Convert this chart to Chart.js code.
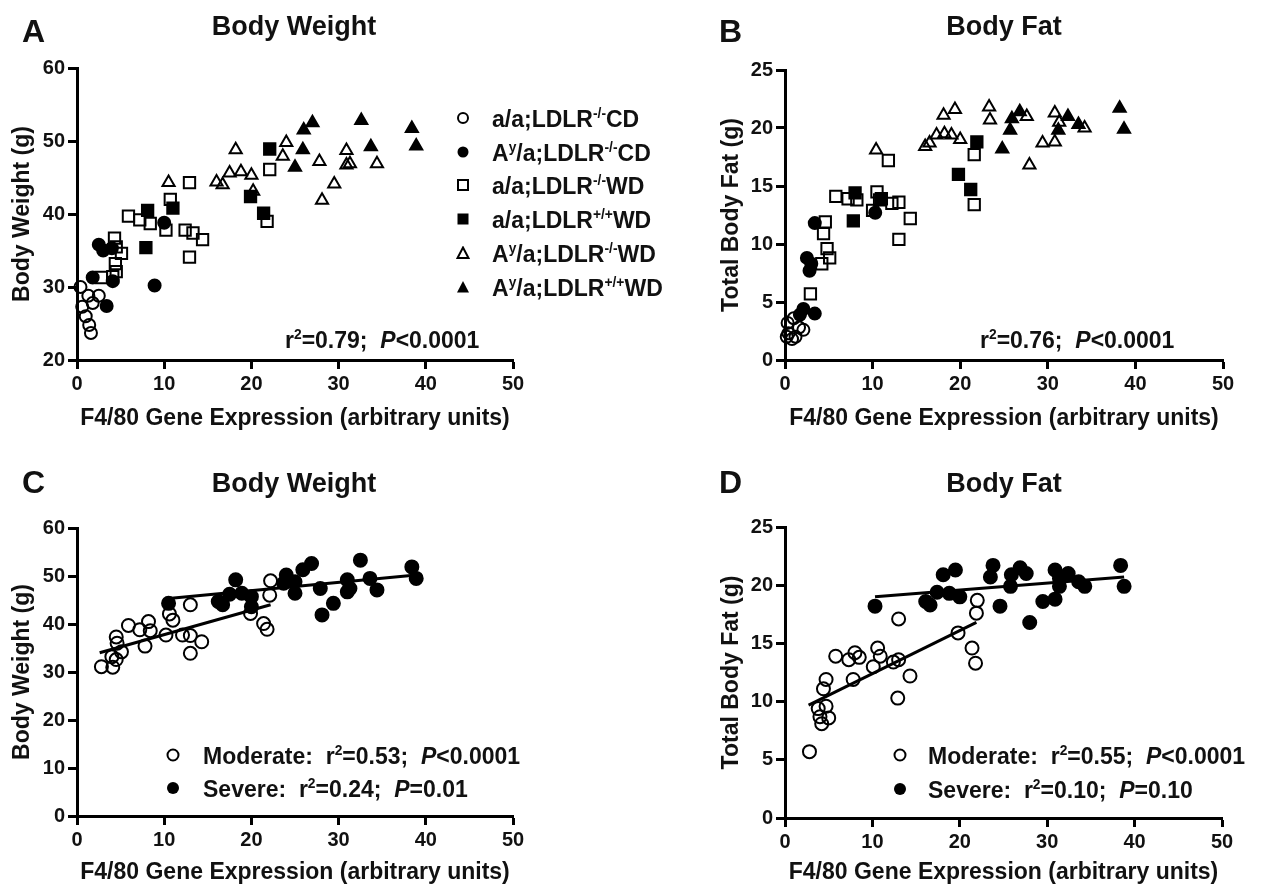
<!DOCTYPE html>
<html>
<head>
<meta charset="utf-8">
<title>F4/80 expression vs body weight and body fat</title>
<script src="https://cdn.jsdelivr.net/npm/chart.js@4.4.1/dist/chart.umd.min.js"></script>
<style>
  html, body { margin: 0; background: #fff; }
  #fig { position: relative; width: 1263px; height: 889px; overflow: hidden;
         font-family: 'Liberation Sans', Arial, Helvetica, sans-serif; font-weight: bold; color: #111; }
  #fig canvas { position: absolute; }
  .t { position: absolute; line-height: 1; white-space: nowrap; transform: translateY(-50%); }
  .mid { transform: translate(-50%, -50%); }
  .big { font-size: 32px; }
  .head { font-size: 27px; }
  .txt { font-size: 23px; }
  sup { font-size: 0.6em; line-height: 0; vertical-align: 0.65em; }
  .mk { position: absolute; transform: translate(-50%, -50%); }
</style>
</head>
<body>
<div id="fig">
  <canvas id="chartA"></canvas>
  <canvas id="chartB"></canvas>
  <canvas id="chartC"></canvas>
  <canvas id="chartD"></canvas>

  <div class="t big" style="left:22px;top:31px">A</div>
  <div class="t head mid" style="left:294px;top:26px">Body Weight</div>
  <div class="t big" style="left:719px;top:31px">B</div>
  <div class="t head mid" style="left:1004px;top:26px">Body Fat</div>
  <div class="t big" style="left:22px;top:482px">C</div>
  <div class="t head mid" style="left:294px;top:483px">Body Weight</div>
  <div class="t big" style="left:719px;top:482px">D</div>
  <div class="t head mid" style="left:1004px;top:483px">Body Fat</div>

  <!-- panel A key -->
  <svg class="mk" style="left:463px;top:118px" width="14" height="14"><circle cx="7" cy="7" r="5" fill="none" stroke="#000" stroke-width="2"/></svg>
  <div class="t txt" style="left:492px;top:119px">a/a;LDLR<sup>-/-</sup>CD</div>
  <svg class="mk" style="left:463px;top:152px" width="14" height="14"><circle cx="7" cy="7" r="5.5" fill="#000"/></svg>
  <div class="t txt" style="left:492px;top:153px">A<sup>y</sup>/a;LDLR<sup>-/-</sup>CD</div>
  <svg class="mk" style="left:463px;top:185px" width="14" height="14"><rect x="2" y="2" width="10" height="10" fill="none" stroke="#000" stroke-width="2"/></svg>
  <div class="t txt" style="left:492px;top:186px">a/a;LDLR<sup>-/-</sup>WD</div>
  <svg class="mk" style="left:463px;top:219px" width="14" height="14"><rect x="1.5" y="1.5" width="11" height="11" fill="#000"/></svg>
  <div class="t txt" style="left:492px;top:220px">a/a;LDLR<sup>+/+</sup>WD</div>
  <svg class="mk" style="left:463px;top:253px" width="14" height="14"><polygon points="7,1.5 12.5,12 1.5,12" fill="none" stroke="#000" stroke-width="2"/></svg>
  <div class="t txt" style="left:492px;top:254px">A<sup>y</sup>/a;LDLR<sup>-/-</sup>WD</div>
  <svg class="mk" style="left:463px;top:287px" width="14" height="14"><polygon points="7,1 13,12.5 1,12.5" fill="#000"/></svg>
  <div class="t txt" style="left:492px;top:288px">A<sup>y</sup>/a;LDLR<sup>+/+</sup>WD</div>

  <div class="t txt" style="left:285px;top:340px">r<sup>2</sup>=0.79;&nbsp; <i>P</i>&lt;0.0001</div>
  <div class="t txt" style="left:980px;top:340px">r<sup>2</sup>=0.76;&nbsp; <i>P</i>&lt;0.0001</div>

  <!-- panel C key -->
  <svg class="mk" style="left:173px;top:755px" width="16" height="16"><circle cx="8" cy="8" r="5.5" fill="none" stroke="#000" stroke-width="2"/></svg>
  <div class="t txt" style="left:203px;top:756px">Moderate:&nbsp; r<sup>2</sup>=0.53;&nbsp; <i>P</i>&lt;0.0001</div>
  <svg class="mk" style="left:173px;top:788px" width="16" height="16"><circle cx="8" cy="8" r="6" fill="#000"/></svg>
  <div class="t txt" style="left:203px;top:789px">Severe:&nbsp; r<sup>2</sup>=0.24;&nbsp; <i>P</i>=0.01</div>

  <!-- panel D key -->
  <svg class="mk" style="left:900px;top:755px" width="16" height="16"><circle cx="8" cy="8" r="5.5" fill="none" stroke="#000" stroke-width="2"/></svg>
  <div class="t txt" style="left:928px;top:756px">Moderate:&nbsp; r<sup>2</sup>=0.55;&nbsp; <i>P</i>&lt;0.0001</div>
  <svg class="mk" style="left:900px;top:789px" width="16" height="16"><circle cx="8" cy="8" r="6" fill="#000"/></svg>
  <div class="t txt" style="left:928px;top:790px">Severe:&nbsp; r<sup>2</sup>=0.10;&nbsp; <i>P</i>=0.10</div>
</div>

<script>
// axis ticks
const xTicks = [0, 10, 20, 30, 40, 50];
const weightTicksA = [20, 30, 40, 50, 60];
const weightTicksC = [0, 10, 20, 30, 40, 50, 60];
const fatTicks = [0, 5, 10, 15, 20, 25];

// panel A: body weight (g) by genotype / diet
const f480A_aaCD = [0.4, 1.3, 2.5, 0.6, 1.8, 1.0, 1.4, 1.6];
const bw_aaCD = [30.0, 28.8, 28.8, 27.3, 27.8, 26.0, 24.8, 23.7];
const f480A_AyCD = [2.5, 3.0, 4.0, 1.8, 3.4, 8.9, 10.0, 4.1];
const bw_AyCD = [35.8, 35.0, 35.3, 31.3, 27.4, 30.2, 38.8, 30.8];
const f480A_aaWD = [2.8, 4.1, 4.5, 4.4, 5.1, 4.5, 4.3, 5.9, 7.2, 8.4, 10.2, 10.7, 12.9, 12.4, 13.3, 14.4, 12.9, 22.1, 21.8];
const bw_aaWD = [31.3, 31.4, 32.1, 33.2, 34.6, 35.5, 36.7, 39.7, 39.2, 38.7, 37.8, 42.0, 44.3, 37.8, 37.4, 36.5, 34.1, 46.1, 39.0];
const f480A_aaWtWD = [7.9, 8.1, 11.0, 19.9, 21.4, 22.1];
const bw_aaWtWD = [35.4, 40.5, 40.8, 42.4, 40.1, 48.9];
const f480A_AyWD = [10.5, 16.0, 16.7, 17.5, 18.2, 18.8, 20.0, 20.2, 23.6, 24.0, 27.8, 28.1, 29.5, 30.9, 30.9, 31.3, 34.4];
const bw_AyWD = [44.3, 44.4, 44.0, 45.6, 48.8, 45.8, 45.3, 43.1, 47.9, 49.8, 47.2, 41.9, 44.1, 48.7, 46.7, 46.9, 46.9];
const f480A_AyWtWD = [25.0, 25.9, 26.0, 27.0, 32.6, 33.7, 38.4, 38.9];
const bw_AyWtWD = [46.4, 48.8, 51.5, 52.5, 52.8, 49.2, 51.7, 49.3];

// panel B: total body fat (g) by genotype / diet
const f480B_aaCD = [0.3, 1.0, 1.6, 0.4, 1.2, 0.8, 2.1, 0.2];
const fat_aaCD = [3.2, 3.6, 2.8, 2.3, 2.0, 1.8, 2.6, 2.0];
const f480B_AyCD = [2.5, 3.0, 2.8, 3.4, 3.4, 2.1, 1.7, 10.3];
const fat_AyCD = [8.8, 8.3, 7.7, 11.8, 4.0, 4.4, 3.9, 12.7];
const f480B_aaWD = [2.9, 4.6, 4.4, 4.8, 4.2, 5.1, 5.8, 7.2, 8.2, 10.5, 10.0, 11.8, 10.8, 12.2, 13.0, 14.3, 13.0, 21.6, 21.6];
const fat_aaWD = [5.7, 11.9, 10.9, 9.6, 8.3, 8.8, 14.1, 13.9, 13.8, 14.5, 12.9, 17.2, 13.8, 13.5, 13.6, 12.2, 10.4, 17.7, 13.4];
const f480B_aaWtWD = [8.0, 7.8, 11.0, 19.8, 21.2, 21.9];
const fat_aaWtWD = [14.4, 12.0, 13.9, 16.0, 14.7, 18.8];
const f480B_AyWD = [10.4, 16.0, 16.5, 17.3, 18.1, 18.2, 19.0, 19.4, 20.0, 23.3, 23.4, 27.6, 27.9, 29.4, 30.8, 30.8, 31.3, 34.2];
const fat_AyWD = [18.1, 18.4, 18.7, 19.4, 21.1, 19.5, 19.4, 21.6, 19.0, 21.8, 20.7, 21.0, 16.8, 18.7, 18.8, 21.3, 20.5, 20.0];
const f480B_AyWtWD = [24.8, 25.7, 25.9, 26.8, 31.2, 32.3, 33.5, 38.2, 38.7];
const fat_AyWtWD = [18.2, 19.8, 20.8, 21.4, 19.8, 21.0, 20.3, 21.7, 19.9];

// panel C: body weight, moderate vs severe
const f480C_mod = [2.8, 4.1, 4.0, 4.5, 4.6, 5.1, 4.5, 5.9, 7.2, 8.2, 8.4, 7.8, 10.2, 10.6, 11.0, 13.0, 12.1, 13.0, 14.3, 13.0, 19.9, 21.4, 21.8, 22.1, 22.2];
const bwC_mod = [31.1, 31.0, 33.2, 37.3, 36.0, 34.2, 32.6, 39.7, 38.8, 40.5, 38.6, 35.4, 37.7, 42.1, 40.8, 44.0, 37.7, 37.6, 36.3, 33.9, 42.2, 40.1, 38.9, 46.0, 49.0];
const f480C_sev = [10.5, 16.2, 16.7, 17.5, 18.2, 18.9, 20.0, 20.0, 23.7, 24.0, 25.0, 25.0, 25.9, 26.9, 27.9, 28.1, 29.4, 31.0, 31.3, 31.0, 32.5, 33.6, 34.4, 38.4, 38.9];
const bwC_sev = [44.3, 44.7, 44.0, 46.2, 49.2, 46.4, 45.7, 43.6, 48.5, 50.2, 46.4, 48.8, 51.3, 52.6, 47.4, 41.9, 44.3, 49.2, 47.4, 46.7, 53.3, 49.5, 47.1, 51.9, 49.5];
const fitC_modX = [2.6, 22.2], fitC_modY = [34.0, 44.0];
const fitC_sevX = [10.5, 38.9], fitC_sevY = [45.3, 50.2];

// panel D: body fat, moderate vs severe
const f480D_mod = [2.8, 4.2, 5.0, 4.0, 4.7, 3.8, 4.4, 4.7, 5.8, 7.3, 8.0, 8.5, 7.8, 10.1, 10.6, 10.9, 12.4, 13.0, 13.0, 12.9, 14.3, 19.8, 21.4, 21.8, 21.9, 22.0];
const fatD_mod = [5.7, 8.1, 8.6, 8.7, 9.6, 9.4, 11.1, 11.9, 13.9, 13.6, 14.2, 13.8, 11.9, 13.0, 14.6, 13.9, 13.4, 13.6, 17.1, 10.3, 12.2, 15.9, 14.6, 13.3, 17.6, 18.7];
const f480D_sev = [10.3, 16.1, 16.6, 17.4, 18.1, 19.5, 18.8, 20.0, 23.5, 23.8, 24.6, 25.9, 26.9, 27.6, 25.8, 28.0, 29.5, 30.9, 30.9, 31.4, 31.4, 32.4, 33.6, 34.3, 38.4, 38.8];
const fatD_sev = [18.2, 18.6, 18.3, 19.4, 20.9, 21.3, 19.3, 19.0, 20.7, 21.7, 18.2, 20.9, 21.5, 21.0, 19.9, 16.8, 18.6, 18.8, 21.3, 20.6, 19.9, 21.0, 20.3, 19.9, 21.7, 19.9];
const fitD_modX = [2.7, 21.9], fitD_modY = [9.7, 16.8];
const fitD_sevX = [10.3, 38.8], fitD_sevY = [19.0, 20.7];

Chart.defaults.font.family = "'Liberation Sans', Arial, Helvetica, sans-serif";
Chart.defaults.font.weight = 'bold';
Chart.defaults.color = '#111';

function pts(xs, ys) { return xs.map((x, i) => ({ x: x, y: ys[i] })); }

function marks(xs, ys, shape, filled, r) {
  return {
    data: pts(xs, ys), pointStyle: shape, pointRadius: r, pointHoverRadius: r,
    pointBorderWidth: 2, pointHoverBorderWidth: 2, pointBorderColor: '#000',
    pointBackgroundColor: filled ? '#000' : 'rgba(255,255,255,0)', clip: false
  };
}

function fitLine(xs, ys) {
  return { data: pts(xs, ys), showLine: true, borderColor: '#000', borderWidth: 3,
           pointRadius: 0, pointHoverRadius: 0, clip: false };
}

function panel(id, pos, area, yTicks, yTitle, datasets) {
  const cv = document.getElementById(id);
  cv.width = pos.w; cv.height = pos.h;
  cv.style.left = pos.left + 'px'; cv.style.top = pos.top + 'px';
  const tickFont = { size: 20, weight: 'bold' };
  const titleFont = { size: 23, weight: 'bold' };
  const grid = { drawOnChartArea: false, tickLength: 9, tickWidth: 3, tickColor: '#000' };
  const border = { color: '#000', width: 3 };
  new Chart(cv, {
    type: 'scatter',
    data: { datasets: datasets },
    options: {
      responsive: false, animation: false, events: [],
      layout: { padding: { left: area.padLeft, top: area.top, right: pos.w - area.right, bottom: pos.h - area.bottom - area.xh } },
      plugins: { legend: { display: false }, tooltip: { enabled: false } },
      scales: {
        x: {
          type: 'linear', min: xTicks[0], max: xTicks[xTicks.length - 1],
          afterBuildTicks: s => { s.ticks = xTicks.map(v => ({ value: v })); },
          afterFit: s => { s.height = area.xh; },
          ticks: { font: tickFont, color: '#111', padding: 3, maxRotation: 0, autoSkip: false },
          grid: grid, border: border,
          title: { display: true, text: 'F4/80 Gene Expression (arbitrary units)', font: titleFont, color: '#111', padding: 0 }
        },
        y: {
          type: 'linear', min: yTicks[0], max: yTicks[yTicks.length - 1],
          afterBuildTicks: s => { s.ticks = yTicks.map(v => ({ value: v })); },
          afterFit: s => { s.width = area.left - area.padLeft; },
          ticks: { font: tickFont, color: '#111', padding: 3, autoSkip: false },
          grid: grid, border: border,
          title: { display: true, text: yTitle, font: titleFont, color: '#111', padding: { top: area.titlePad, bottom: 0 } }
        }
      }
    }
  });
}

panel('chartA', { left: 0, top: 0, w: 630, h: 440 },
  { padLeft: 0, left: 77, top: 68, right: 513, bottom: 360, xh: 72, titlePad: 9 },
  weightTicksA, 'Body Weight (g)', [
    marks(f480A_aaCD, bw_aaCD, 'circle', false, 6),
    marks(f480A_AyCD, bw_AyCD, 'circle', true, 6),
    marks(f480A_aaWD, bw_aaWD, 'rect', false, 8),
    marks(f480A_aaWtWD, bw_aaWtWD, 'rect', true, 8),
    marks(f480A_AyWD, bw_AyWD, 'triangle', false, 7),
    marks(f480A_AyWtWD, bw_AyWtWD, 'triangle', true, 7)
  ]);

panel('chartB', { left: 630, top: 0, w: 633, h: 440 },
  { padLeft: 80, left: 155, top: 70, right: 593, bottom: 360, xh: 72, titlePad: 8 },
  fatTicks, 'Total Body Fat (g)', [
    marks(f480B_aaCD, fat_aaCD, 'circle', false, 6),
    marks(f480B_AyCD, fat_AyCD, 'circle', true, 6),
    marks(f480B_aaWD, fat_aaWD, 'rect', false, 8),
    marks(f480B_aaWtWD, fat_aaWtWD, 'rect', true, 8),
    marks(f480B_AyWD, fat_AyWD, 'triangle', false, 7),
    marks(f480B_AyWtWD, fat_AyWtWD, 'triangle', true, 7)
  ]);

panel('chartC', { left: 0, top: 440, w: 630, h: 449 },
  { padLeft: 0, left: 77, top: 88, right: 513, bottom: 376, xh: 70, titlePad: 9 },
  weightTicksC, 'Body Weight (g)', [
    fitLine(fitC_modX, fitC_modY),
    fitLine(fitC_sevX, fitC_sevY),
    marks(f480C_mod, bwC_mod, 'circle', false, 6.5),
    marks(f480C_sev, bwC_sev, 'circle', true, 6.5)
  ]);

panel('chartD', { left: 630, top: 440, w: 633, h: 449 },
  { padLeft: 80, left: 155, top: 87, right: 592, bottom: 378, xh: 68, titlePad: 8 },
  fatTicks, 'Total Body Fat (g)', [
    fitLine(fitD_modX, fitD_modY),
    fitLine(fitD_sevX, fitD_sevY),
    marks(f480D_mod, fatD_mod, 'circle', false, 6.5),
    marks(f480D_sev, fatD_sev, 'circle', true, 6.5)
  ]);
</script>
</body>
</html>
